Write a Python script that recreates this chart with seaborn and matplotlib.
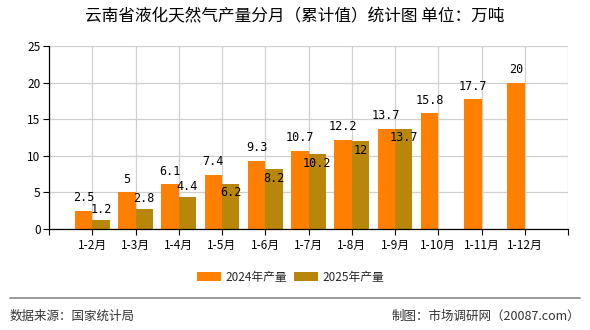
import numpy as np
import pandas as pd
import matplotlib
matplotlib.use("Agg")
import matplotlib.pyplot as plt
import seaborn as sns
from matplotlib.patches import Patch
from matplotlib.lines import Line2D

categories = ["1-2月", "1-3月", "1-4月", "1-5月", "1-6月", "1-7月", "1-8月", "1-9月", "1-10月", "1-11月", "1-12月"]
values_2024 = [2.5, 5, 6.1, 7.4, 9.3, 10.7, 12.2, 13.7, 15.8, 17.7, 20]
values_2025 = [1.2, 2.8, 4.4, 6.2, 8.2, 10.2, 12, 13.7, None, None, None]
series_names = ["2024年产量", "2025年产量"]
colors = ["#FF8000", "#B8860B"]
y_ticks = [0, 5, 10, 15, 20, 25]

sns.set_theme(style="white")
plt.rcParams['font.family'] = ['Noto Sans CJK SC', 'DejaVu Sans']

df = pd.DataFrame({
    "cat": categories * 2,
    "val": [v if v is not None else np.nan for v in values_2024 + values_2025],
    "series": [series_names[0]] * len(categories) + [series_names[1]] * len(categories),
})

fig = plt.figure(figsize=(5.9, 3.3), dpi=100)
ax = fig.add_axes([49/590, 1 - 229/330, (568-49)/590, (229-46)/330])

sns.barplot(data=df, x="cat", y="val", hue="series", palette=colors,
            width=0.8, dodge=True, saturation=1, legend=False, ax=ax, errorbar=None,
            linewidth=0, edgecolor='none')

ax.set_xlim(-1, len(categories))
ax.set_ylim(0, 25)
ax.set_yticks(y_ticks)
ax.set_xticks(range(-1, len(categories) + 1))
ax.set_xticklabels([""] + categories + [""])
ax.set_xlabel("")
ax.set_ylabel("")
ax.tick_params(axis='x', labelsize=8.5, length=4, width=0.8, color='black', pad=3, direction='out', bottom=True)
ax.tick_params(axis='y', labelsize=8.5, length=4, width=0.8, color='black', pad=2, direction='out', left=True)
for lab in ax.get_xticklabels() + ax.get_yticklabels():
    lab.set_color('black')

ax.grid(True, color='#D0D0D0', linewidth=0.9)
ax.set_axisbelow(True)
for s in ['top', 'right']:
    ax.spines[s].set_visible(False)
for s in ['left', 'bottom']:
    ax.spines[s].set_color('black')
    ax.spines[s].set_linewidth(0.9)

# data labels
for ci, cont in enumerate(ax.containers):
    vals = values_2024 if ci == 0 else values_2025
    for i, (bar, v) in enumerate(zip(cont.patches, vals)):
        if v is None:
            continue
        xc = bar.get_x() + bar.get_width() / 2
        h = bar.get_height()
        if ci == 0:
            off = 9.5
        else:
            off = 7.5 if i < 3 else -6.5
        txt = f"{v:g}"
        ax.annotate(txt, (xc, h), xytext=(0, off), textcoords='offset points',
                    ha='center', va='center', fontsize=8.5, family='DejaVu Sans Mono', color='black')

# title
fig.text(0.5, 1 - 17/330, "云南省液化天然气产量分月（累计值）统计图 单位：万吨", ha='center', va='center',
         fontsize=12, color='black')

# legend
handles = [Patch(facecolor=colors[0], edgecolor='none'), Patch(facecolor=colors[1], edgecolor='none')]
fig.legend(handles, series_names, loc='center', bbox_to_anchor=(291/590, 1 - 277/330), ncol=2, frameon=False,
           fontsize=8.5, handlelength=2.0, handleheight=0.8, columnspacing=0.6, handletextpad=0.4)

# separator
fig.add_artist(Line2D([10/590, 580/590], [1 - 298/330, 1 - 298/330], color='#888888', linewidth=1.2))

fig.text(10/590, 1 - 316/330, "数据来源：国家统计局", ha='left', va='center', fontsize=9, color='#333333')
fig.text(580/590, 1 - 316/330, "制图：市场调研网（20087.com）", ha='right', va='center', fontsize=9, color='#333333')

fig.savefig("out.png", dpi=100)
